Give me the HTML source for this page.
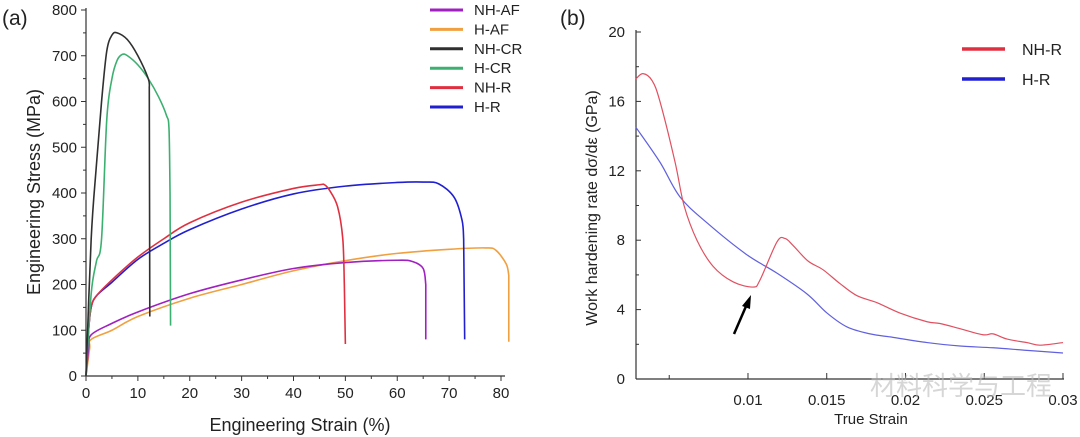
<!DOCTYPE html>
<html><head><meta charset="utf-8"><style>
html,body{margin:0;padding:0;background:#fff;}
svg{display:block;font-family:"Liberation Sans","Noto Sans CJK SC",sans-serif;}
</style></head><body>
<svg id="c" width="1080" height="437" viewBox="0 0 1080 437"></svg>
<script>
// Panel (a) data
const aSeriesNames = ["NH-AF","H-AF","NH-CR","H-CR","NH-R","H-R"];
const aColors = ["#a020c0","#f0a040","#303030","#3cb070","#e03040","#2020d0"];
const aNHAF_x = [0,0.5,1,5,10,20,30,40,50,60,63,65,65.5,65.5];
const aNHAF_y = [0,60,90,115,140,180,210,235,248,253,250,235,200,80];
const aHAF_x = [0,0.7,1,5,10,20,30,40,50,60,70,77,79,81,81.5,81.5];
const aHAF_y = [0,60,80,100,130,170,200,230,252,268,277,280,275,245,220,75];
const aNHCR_x = [0,1,2,3,4,5,6,8,10,12,12.2,12.3];
const aNHCR_y = [0,300,460,600,710,745,750,735,700,650,630,130];
const aHCR_x = [0,1,2,3,4,5,6,7,8,10,12,14,15.5,16,16.2,16.3];
const aHCR_y = [0,180,250,300,560,650,690,703,700,680,650,610,570,540,400,110];
const aNHR_x = [0,0.5,1,2,5,10,15,20,30,40,45,46,47,48.5,49.5,49.8,50];
const aNHR_y = [0,100,150,175,210,260,300,335,380,410,418,418,405,370,300,200,70];
const aHR_x = [0,0.5,1,2,5,10,15,20,30,40,50,60,65,68,71,72.5,72.8,73];
const aHR_y = [0,100,150,175,205,255,290,320,365,398,415,423,424,420,390,340,300,80];
const aXTicks = [0,10,20,30,40,50,60,70,80];
const aYTicks = [0,100,200,300,400,500,600,700,800];
// Panel (b) data
const bNHR_x = [0.00289,0.00333,0.00391,0.00441,0.00537,0.00594,0.00676,0.00778,0.00905,0.01032,0.01076,0.01184,0.01235,0.01286,0.01381,0.01476,0.01584,0.01692,0.01819,0.01965,0.02137,0.02219,0.02346,0.02492,0.02556,0.02645,0.02771,0.02854,0.03];
const bNHR_y = [17.3,17.6,17.2,16,12.5,10,8,6.5,5.6,5.3,5.7,7.9,8.1,7.7,6.8,6.3,5.5,4.8,4.4,3.8,3.3,3.2,2.9,2.55,2.6,2.3,2.1,1.95,2.1];
const bHR_x = [0.00289,0.00441,0.00568,0.0074,0.00987,0.01184,0.01375,0.01502,0.01629,0.01775,0.01921,0.02137,0.02346,0.02556,0.02771,0.03];
const bHR_y = [14.5,12.5,10.5,9,7.2,6.1,4.9,3.8,3.0,2.6,2.4,2.1,1.9,1.8,1.65,1.5];
const bXTicks = [0.01,0.015,0.02,0.025,0.03];
const bXTickLabels = ["0.01","0.015","0.02","0.025","0.03"];
const bYTicks = [0,4,8,12,16,20];

const NS="http://www.w3.org/2000/svg";
const svg=document.getElementById('c');
function mk(tag,attrs,parent){const e=document.createElementNS(NS,tag);for(const k in attrs)e.setAttribute(k,attrs[k]);(parent||svg).appendChild(e);return e;}
function txt(s,attrs){const e=mk('text',attrs);e.textContent=s;return e;}
function smooth(pts){
  let d='M'+pts[0][0]+','+pts[0][1];
  for(let i=0;i<pts.length-1;i++){
    const p0=pts[i-1]||pts[i],p1=pts[i],p2=pts[i+1],p3=pts[i+2]||p2;
    const c1=[p1[0]+(p2[0]-p0[0])/6,p1[1]+(p2[1]-p0[1])/6];
    const c2=[p2[0]-(p3[0]-p1[0])/6,p2[1]-(p3[1]-p1[1])/6];
    d+=' C'+c1[0]+','+c1[1]+' '+c2[0]+','+c2[1]+' '+p2[0]+','+p2[1];
  }
  return d;
}
// smooth everything except the final fracture drop, which is straight
function smoothDrop(pts){
  const last=pts[pts.length-1];
  return smooth(pts.slice(0,-1))+' L'+last[0]+','+last[1];
}

const ax=v=>86+v*(415/80), ay=v=>376-v*(366/800);
const bx0=0.00289, bx=v=>636+(v-bx0)*15750, by=v=>379-v*(347/20);

let g=mk('g',{});


mk('line',{x1:86,y1:376,x2:505,y2:376,stroke:'#333','stroke-width':1.2},g);
mk('line',{x1:86,y1:376,x2:86,y2:8,stroke:'#333','stroke-width':1.2},g);
aXTicks.forEach(t=>{mk('line',{x1:ax(t),y1:376,x2:ax(t),y2:381,stroke:'#333'},g);
  const e=txt(String(t),{x:ax(t),y:398,'font-size':15,'text-anchor':'middle',fill:'#222'});
  
  if(t<80){mk('line',{x1:ax(t+5),y1:376,x2:ax(t+5),y2:379,stroke:'#333'},g);}});
aYTicks.forEach(t=>{mk('line',{x1:81,y1:ay(t),x2:86,y2:ay(t),stroke:'#333'},g);
  const e=txt(String(t),{x:77,y:ay(t)+5,'font-size':15,'text-anchor':'end',fill:'#222'});
  
  if(t<800){mk('line',{x1:83,y1:ay(t+50),x2:86,y2:ay(t+50),stroke:'#333'},g);}});
let e=txt('Engineering Strain (%)',{x:300,y:431,'font-size':18,'text-anchor':'middle',fill:'#222'});

e=txt('Engineering Stress (MPa)',{x:0,y:0,'font-size':18,'text-anchor':'middle',fill:'#222',transform:'translate(40,192) rotate(-90)'});

e=txt('(a)',{x:2,y:25,'font-size':21,fill:'#222'});


const aX=[aNHAF_x,aHAF_x,aNHCR_x,aHCR_x,aNHR_x,aHR_x], aY=[aNHAF_y,aHAF_y,aNHCR_y,aHCR_y,aNHR_y,aHR_y];
const aOrder=[1,0,5,4,3,2];
aOrder.forEach(i=>{
  const p=mk('path',{d:smoothDrop(aX[i].map((x,j)=>[ax(x),ay(aY[i][j])])),fill:'none',stroke:aColors[i],'stroke-width':1.6,'stroke-linejoin':'round'});
  
  
});
aSeriesNames.forEach((n,i)=>{
  const yy=10+i*19.4;
  const l=mk('line',{x1:430,y1:yy,x2:463,y2:yy,stroke:aColors[i],'stroke-width':3});
  
  const t=txt(n,{x:474,y:yy+5,'font-size':15,fill:'#222'});
  
});

g=mk('g',{});


mk('line',{x1:636,y1:379,x2:1064,y2:379,stroke:'#333','stroke-width':1.2},g);
mk('line',{x1:636,y1:379,x2:636,y2:30,stroke:'#333','stroke-width':1.2},g);
mk('line',{x1:bx(0.005),y1:379,x2:bx(0.005),y2:375,stroke:'#333'},g);
bXTicks.forEach((t,i)=>{mk('line',{x1:bx(t),y1:379,x2:bx(t),y2:373,stroke:'#333'},g);
  const e=txt(bXTickLabels[i],{x:bx(t),y:405,'font-size':15,'text-anchor':'middle',fill:'#222'});
  });
bYTicks.forEach(t=>{mk('line',{x1:636,y1:by(t),x2:641,y2:by(t),stroke:'#333'},g);
  const e=txt(String(t),{x:625,y:by(t)+5,'font-size':15,'text-anchor':'end',fill:'#222'});
  
  if(t<20){mk('line',{x1:636,y1:by(t+2),x2:639,y2:by(t+2),stroke:'#333'},g);}});
e=txt('True Strain',{x:871,y:424,'font-size':15,'text-anchor':'middle',fill:'#222'});

e=txt('Work hardening rate dσ/dε (GPa)',{x:0,y:0,'font-size':16,'text-anchor':'middle',fill:'#222',transform:'translate(597,208) rotate(-90)'});

e=txt('(b)',{x:560,y:25,'font-size':21,fill:'#222'});


let p=mk('path',{d:smooth(bHR_x.map((x,j)=>[bx(x),by(bHR_y[j])])),fill:'none',stroke:'#6060e0','stroke-width':1.2});

p=mk('path',{d:smooth(bNHR_x.map((x,j)=>[bx(x),by(bNHR_y[j])])),fill:'none',stroke:'#e05060','stroke-width':1.2});


[['NH-R','#e03040',49],['H-R','#2020d0',79]].forEach(([n,c,yy])=>{
  const l=mk('line',{x1:962,y1:yy,x2:1005,y2:yy,stroke:c,'stroke-width':3.5});
  
  const t=txt(n,{x:1022,y:yy+6,'font-size':16,fill:'#222'});
  
});
const ar=mk('g',{});

mk('line',{x1:734,y1:334,x2:747,y2:304,stroke:'#000','stroke-width':2.5},ar);
mk('polygon',{points:'751,295 742,306 750,309',fill:'#000'},ar);
e=txt('材料科学与工程',{x:870,y:395,'font-size':26,fill:'#bbb','fill-opacity':0.6});

</script>
</body></html>
